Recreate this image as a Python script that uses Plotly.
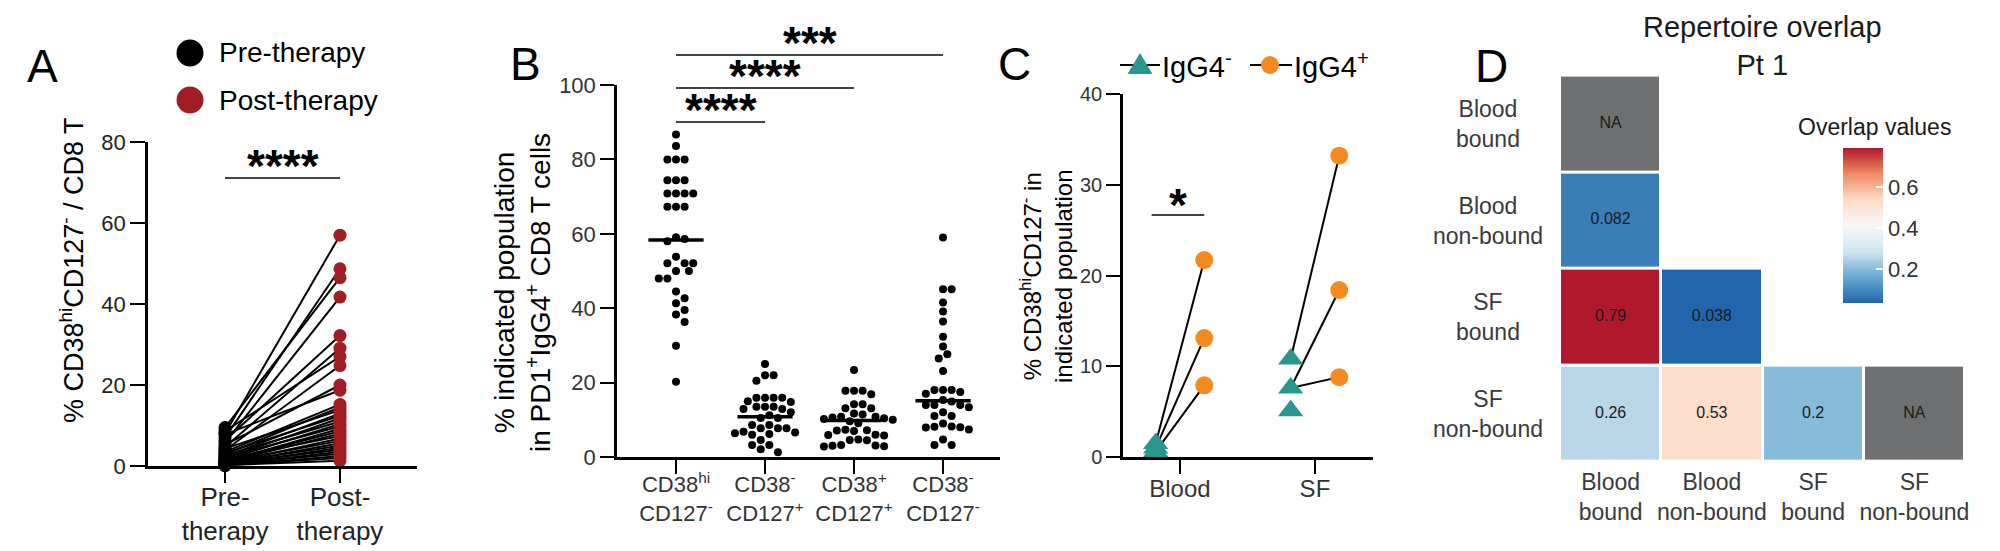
import numpy as np
import plotly.graph_objects as go

W, H = 2000, 551
FONT = "Liberation Sans, Arial, sans-serif"


def px(x):
    return x / W


def py(y):
    return 1 - y / H


# ---------------- Panel A data ----------------
a_groups = ["Pre-<br>therapy", "Post-<br>therapy"]
a_legend = ["Pre-therapy", "Post-therapy"]
a_pre = [8.0, 7.0, 9.5, 5.8, 6.3, 4.7, 8.6, 3.9, 5.2, 7.8, 3.5, 2.9, 4.3, 2.4, 3.2, 1.9, 2.6,
         1.5, 2.1, 1.1, 1.3, 0.9, 1.7, 0.7, 1.0, 0.5, 0.8, 0.3, 0.6, 0.2, 0.4, 0.1, 0.3, 0.2]
a_post = [57.0, 48.7, 46.5, 41.7, 32.2, 29.1, 27.0, 24.8, 20.0, 18.7, 15.2, 14.5, 13.8, 13.0,
          12.4, 11.8, 11.0, 10.4, 9.8, 9.2, 8.6, 8.0, 7.4, 6.8, 6.2, 5.6, 5.0, 4.5, 4.0, 3.5,
          3.0, 2.5, 2.0, 1.3]
a_sig = "****"

# ---------------- Panel B data ----------------
b_groups = ["CD38<sup>hi</sup><br>CD127<sup>-</sup>", "CD38<sup>-</sup><br>CD127<sup>+</sup>",
            "CD38<sup>+</sup><br>CD127<sup>+</sup>", "CD38<sup>-</sup><br>CD127<sup>-</sup>"]
b_cd38hi_cd127neg = [86.7, 83.6, 80.0, 80.0, 80.0, 74.4, 74.4, 74.4, 70.8, 70.8, 70.8, 70.8,
                     67.3, 67.3, 67.3, 59.1, 58.6, 58.0, 53.8, 52.1, 52.1, 52.1, 50.0, 50.0,
                     48.0, 48.0, 44.5, 42.7, 41.3, 39.5, 38.3, 36.3, 29.9, 20.2]
b_cd38neg_cd127pos = [25.0, 22.0, 22.0, 20.5, 15.9, 15.9, 15.9, 15.9, 15.0, 14.8, 13.5, 13.5,
                      13.5, 12.9, 12.9, 12.0, 11.2, 10.5, 10.5, 8.6, 8.6, 7.7, 7.7, 7.7, 6.0,
                      6.2, 6.4, 6.6, 6.8, 4.6, 3.2, 3.2, 2.1, 1.3]
b_cd38pos_cd127pos = [23.4, 17.8, 17.8, 17.8, 16.9, 14.2, 14.2, 13.1, 13.1, 11.7, 11.4, 10.8,
                      10.0, 10.2, 10.4, 10.6, 10.8, 9.6, 9.1, 7.0, 7.1, 7.2, 7.3, 5.8, 5.9,
                      6.0, 4.5, 4.6, 4.7, 2.8, 2.9, 3.0, 3.1, 3.2]
b_cd38neg_cd127neg = [59.0, 45.1, 45.1, 41.5, 39.1, 36.4, 32.3, 29.7, 27.6, 26.5, 23.1, 18.0,
                      18.0, 18.0, 17.5, 17.0, 15.3, 14.9, 14.0, 14.0, 14.0, 13.4, 12.0, 11.0,
                      11.0, 9.0, 7.9, 8.0, 8.1, 8.2, 7.4, 4.7, 3.2, 3.2]
b_values = [b_cd38hi_cd127neg, b_cd38neg_cd127pos, b_cd38pos_cd127pos, b_cd38neg_cd127neg]
b_sig = [("****", 0, 1), ("****", 0, 2), ("***", 0, 3)]

# ---------------- Panel C data ----------------
c_sites = ["Blood", "SF"]
c_igg4neg_blood = [1.5, 1.0, 0.6]
c_igg4pos_blood = [21.7, 13.1, 7.9]
c_igg4neg_sf = [10.8, 7.6, 5.1]
c_igg4pos_sf = [33.2, 18.4, 8.8]
c_link_blood = [0, 1, 2]   # IgG4- point linked to each IgG4+ point
c_link_sf = [0, 1, 1]
c_sig = "*"

# ---------------- Panel D data ----------------
d_samples = ["Blood bound", "Blood non-bound", "SF bound", "SF non-bound"]
d_overlap = [
    ["NA", None, None, None],
    [0.082, None, None, None],
    [0.79, 0.038, None, None],
    [0.26, 0.53, 0.2, "NA"],
]

# ---------------- colours ----------------
RED = "#A11D24"
TEAL = "#2B958F"
ORANGE = "#F58A1F"
NA_GREY = "#6D6F70"
RDBU = [[0, "#2166AC"], [1 / 6, "#67A9CF"], [2 / 6, "#D1E5F0"], [0.5, "#F7F7F7"],
        [4 / 6, "#FDDBC7"], [5 / 6, "#EF8A62"], [1, "#B2182B"]]

# ---------------- layout geometry (pixels) ----------------
A_X = (148, 417); A_Y = (466, 142)
B_X = (617, 1000); B_Y = (457, 85)
C_X = (1123, 1373); C_Y = (457, 94)
D_X = (1560, 1965); D_Y = (462, 75.6)

A_RANGE = [-0.67, 1.67]
B_RANGE = [-0.663, 3.640]
C_RANGE = [-0.422, 1.430]


def swarm(values, x_px_per_unit, y_px_per_unit, step=4.3, mindist=8.6):
    """Deterministic beeswarm offsets (in x data units)."""
    order = sorted(range(len(values)), key=lambda i: -values[i])
    placed = []
    offs = [0.0] * len(values)
    for i in order:
        yv = values[i] * y_px_per_unit
        cands = [0.0]
        for j in range(1, 60):
            cands += [j * step, -j * step]
        for c in cands:
            if all((c - p) ** 2 + (yv - q) ** 2 >= mindist ** 2 for p, q in placed):
                placed.append((c, yv))
                offs[i] = c / x_px_per_unit
                break
    return offs


fig = go.Figure()

# ---------- Panel A ----------
lx, ly = [], []
for pre, post in zip(a_pre, a_post):
    lx += [0, 1, None]
    ly += [pre, post, None]
fig.add_trace(go.Scatter(x=lx, y=ly, mode="lines", line=dict(color="black", width=2),
                         xaxis="x", yaxis="y", showlegend=False, hoverinfo="skip",
                         cliponaxis=False))
fig.add_trace(go.Scatter(x=[0] * len(a_pre), y=a_pre, mode="markers", name=a_legend[0],
                         marker=dict(color="black", size=13), xaxis="x", yaxis="y",
                         showlegend=False, cliponaxis=False))
fig.add_trace(go.Scatter(x=[1] * len(a_post), y=a_post, mode="markers", name=a_legend[1],
                         marker=dict(color=RED, size=13), xaxis="x", yaxis="y",
                         showlegend=False, cliponaxis=False))

# ---------- Panel B ----------
bx_ppu = (B_X[1] - B_X[0]) / (B_RANGE[1] - B_RANGE[0])
by_ppu = (B_Y[0] - B_Y[1]) / 100.0
mx, my = [], []
for gi, vals in enumerate(b_values):
    offs = swarm(vals, bx_ppu, by_ppu)
    fig.add_trace(go.Scatter(x=[gi + o for o in offs], y=vals, mode="markers",
                             marker=dict(color="black", size=8), xaxis="x2", yaxis="y2",
                             showlegend=False, cliponaxis=False,
                             name=b_groups[gi].replace("<br>", " ")))
    med = float(np.median(vals))
    mx += [gi - 0.31, gi + 0.31, None]
    my += [med, med, None]
fig.add_trace(go.Scatter(x=mx, y=my, mode="lines", line=dict(color="black", width=3.5),
                         xaxis="x2", yaxis="y2", showlegend=False, hoverinfo="skip"))

# ---------- Panel C ----------
OFF = 0.18
cl_x, cl_y = [], []
for site_i, (neg, pos, link) in enumerate([(c_igg4neg_blood, c_igg4pos_blood, c_link_blood),
                                           (c_igg4neg_sf, c_igg4pos_sf, c_link_sf)]):
    for k, pv in enumerate(pos):
        cl_x += [site_i - OFF, site_i + OFF, None]
        cl_y += [neg[link[k]], pv, None]
fig.add_trace(go.Scatter(x=cl_x, y=cl_y, mode="lines", line=dict(color="black", width=2),
                         xaxis="x3", yaxis="y3", showlegend=False, hoverinfo="skip",
                         cliponaxis=False))
fig.add_trace(go.Scatter(
    x=[0 - OFF] * len(c_igg4neg_blood) + [1 - OFF] * len(c_igg4neg_sf),
    y=c_igg4neg_blood + c_igg4neg_sf, mode="markers", name="IgG4-",
    marker=dict(symbol="triangle-up", color=TEAL, size=22), xaxis="x3", yaxis="y3",
    showlegend=False, cliponaxis=False))
fig.add_trace(go.Scatter(
    x=[0 + OFF] * len(c_igg4pos_blood) + [1 + OFF] * len(c_igg4pos_sf),
    y=c_igg4pos_blood + c_igg4pos_sf, mode="markers", name="IgG4+",
    marker=dict(symbol="circle", color=ORANGE, size=18), xaxis="x3", yaxis="y3",
    showlegend=False, cliponaxis=False))

# ---------- Panel D ----------
z_val, z_na = [], []
cell_x, cell_y, cell_t = [], [], []
for ri, row in enumerate(d_overlap):
    zr, nr = [], []
    for ci, v in enumerate(row):
        if v == "NA":
            zr.append(None); nr.append(1)
        elif v is None:
            zr.append(None); nr.append(None)
        else:
            zr.append(v); nr.append(None)
        if v is not None:
            cell_x.append(d_samples[ci]); cell_y.append(d_samples[ri])
            cell_t.append(v if v == "NA" else f"{v:g}")
    z_val.append(zr); z_na.append(nr)

fig.add_trace(go.Heatmap(
    z=z_na, x=d_samples, y=d_samples,
    colorscale=[[0, NA_GREY], [1, NA_GREY]], showscale=False, xgap=3, ygap=3,
    xaxis="x4", yaxis="y4", hoverinfo="skip"))
fig.add_trace(go.Heatmap(
    z=z_val, x=d_samples, y=d_samples,
    colorscale=RDBU, xgap=3, ygap=3, xaxis="x4", yaxis="y4",
    colorbar=dict(x=px(1843), xanchor="left", y=py(225.3), yanchor="middle",
                  thickness=40, thicknessmode="pixels", len=155, lenmode="pixels",
                  xpad=0, ypad=0, outlinewidth=0, ticks="inside", ticklen=7,
                  tickcolor="white", tickwidth=2, dtick=0.2, tick0=0, tickformat=".1f",
                  tickfont=dict(size=22, color="#333333", family=FONT))))
fig.add_trace(go.Scatter(
    x=cell_x, y=cell_y, text=cell_t, mode="text", xaxis="x4", yaxis="y4",
    textfont=dict(size=16, color="#1a1a1a", family=FONT), showlegend=False,
    hoverinfo="skip"))

# ---------- axes ----------
base_axis = dict(showgrid=False, zeroline=False, showline=True, linecolor="black",
                 linewidth=2.5, ticks="outside", tickwidth=2, tickcolor="black",
                 fixedrange=True, automargin=False)

layout = dict(
    width=W, height=H, margin=dict(l=0, r=0, t=0, b=0, pad=0, autoexpand=False),
    autosize=False, paper_bgcolor="white", plot_bgcolor="white",
    font=dict(family=FONT, color="black"),
    xaxis=dict(base_axis, domain=[px(A_X[0]), px(A_X[1])], range=A_RANGE, anchor="y",
               tickvals=[0, 1], ticktext=a_groups, ticklen=14, ticklabelstandoff=-8,
               tickfont=dict(size=26, color="#222222")),
    yaxis=dict(base_axis, domain=[py(A_Y[0]), py(A_Y[1])], range=[0, 80], dtick=20,
               anchor="x", ticklen=15, tickfont=dict(size=22, color="#222222")),
    xaxis2=dict(base_axis, domain=[px(B_X[0]), px(B_X[1])], range=B_RANGE, anchor="y2",
                tickvals=list(range(len(b_groups))), ticktext=b_groups, ticklen=14,
                ticklabelstandoff=-8, tickfont=dict(size=22, color="#333333")),
    yaxis2=dict(base_axis, domain=[py(B_Y[0]), py(B_Y[1])], range=[0, 100], dtick=20,
                anchor="x2", ticklen=14, tickfont=dict(size=22, color="#333333")),
    xaxis3=dict(base_axis, domain=[px(C_X[0]), px(C_X[1])], range=C_RANGE, anchor="y3",
                tickvals=[0, 1], ticktext=c_sites, ticklen=14, ticklabelstandoff=-6,
                tickfont=dict(size=24, color="#333333")),
    yaxis3=dict(base_axis, domain=[py(C_Y[0]), py(C_Y[1])], range=[0, 40], dtick=10,
                anchor="x3", ticklen=14, tickfont=dict(size=20, color="#333333")),
    xaxis4=dict(domain=[px(D_X[0]), px(D_X[1])], anchor="y4", showgrid=False,
                zeroline=False, showline=False, ticks="", fixedrange=True, automargin=False,
                tickvals=d_samples, ticktext=[s.replace(" ", "<br>", 1) for s in d_samples],
                ticklabelstandoff=4, tickfont=dict(size=23, color="#3a3a3a")),
    yaxis4=dict(domain=[py(D_Y[0]), py(D_Y[1])], anchor="x4", showgrid=False,
                zeroline=False, showline=False, ticks="", autorange="reversed",
                showticklabels=False, fixedrange=True, automargin=False),
)
fig.update_layout(**layout)

ann = []
shapes = []


def label(text, x, y, size, **kw):
    d = dict(text=text, x=px(x), y=py(y), xref="paper", yref="paper", showarrow=False,
             font=dict(size=size, family=FONT, color=kw.pop("color", "black")),
             xanchor=kw.pop("xanchor", "center"), yanchor=kw.pop("yanchor", "middle"))
    d.update(kw)
    ann.append(d)


# panel letters
label("A", 42, 66, 46)
label("B", 525, 64, 46)
label("C", 1015, 64, 46)
label("D", 1491, 66, 46)

# axis titles
label("% CD38<sup>hi</sup>CD127<sup>-</sup> / CD8 T", 72, 270, 27, textangle=-90)
label("% indicated population<br>in PD1<sup>+</sup>IgG4<sup>+</sup> CD8 T cells", 522, 293, 28,
      textangle=-90)
label("% CD38<sup>hi</sup>CD127<sup>-</sup> in<br>indicated population", 1046, 276, 24,
      textangle=-90)

# panel A legend
for i, (txt, col) in enumerate(zip(a_legend, ["black", RED])):
    yy = [53, 100][i]
    shapes.append(dict(type="circle", xref="paper", yref="paper", xsizemode="pixel",
                       ysizemode="pixel", xanchor=px(190), yanchor=py(yy),
                       x0=-13.5, x1=13.5, y0=-13.5, y1=13.5, fillcolor=col,
                       line=dict(width=0)))
    label(txt, 217, yy, 28, xanchor="left")

# panel C legend
shapes.append(dict(type="line", xref="paper", yref="paper", x0=px(1120), x1=px(1160),
                   y0=py(65), y1=py(65), line=dict(color="black", width=2)))
shapes.append(dict(type="path", xref="paper", yref="paper", xsizemode="pixel",
                   ysizemode="pixel", xanchor=px(1140), yanchor=py(65),
                   path="M -12.5 -9 L 12.5 -9 L 0 12 Z", fillcolor=TEAL, line=dict(width=0)))
label("IgG4<sup>-</sup>", 1160, 65, 29, xanchor="left")
shapes.append(dict(type="line", xref="paper", yref="paper", x0=px(1250), x1=px(1292),
                   y0=py(65), y1=py(65), line=dict(color="black", width=2)))
shapes.append(dict(type="circle", xref="paper", yref="paper", xsizemode="pixel",
                   ysizemode="pixel", xanchor=px(1270), yanchor=py(65),
                   x0=-9, x1=9, y0=-9, y1=9, fillcolor=ORANGE, line=dict(width=0)))
label("IgG4<sup>+</sup>", 1292, 65, 29, xanchor="left")


# significance bars
def sig(xref, x0, x1, ybar, stars, size=46, gap=16):
    shapes.append(dict(type="line", xref=xref, yref="paper", x0=x0, x1=x1,
                       y0=py(ybar), y1=py(ybar), line=dict(color="#444444", width=2)))
    ann.append(dict(text=f"<b>{stars}</b>", x=(x0 + x1) / 2, y=py(ybar), xref=xref,
                    yref="paper", showarrow=False, yanchor="bottom", yshift=-gap,
                    font=dict(size=size, family=FONT, color="black")))


sig("x", 0, 1, 178, a_sig)
for (stars, g0, g1), yb in zip(b_sig, [122, 88, 55]):
    sig("x2", g0, g1, yb, stars)
sig("x3", 0 - OFF - 0.03, 0 + OFF, 215, c_sig, gap=18)

# panel D titles
label("Repertoire overlap<br>Pt 1", 1762, 46, 29, color="#1a1a1a")
label("Overlap values", 1874, 126.5, 23, color="#1a1a1a")
for i, s in enumerate(d_samples):
    ann.append(dict(text=s.replace(" ", "<br>", 1), x=px(1488), y=s, xref="paper",
                    yref="y4", showarrow=False, xanchor="center", yanchor="middle",
                    align="center", font=dict(size=23, family=FONT, color="#3a3a3a")))

fig.update_layout(annotations=ann, shapes=shapes)
fig.write_html("out.html", config={"displayModeBar": False},
               post_script="document.body.style.margin='0';"
                           "document.body.style.overflow='hidden';")
